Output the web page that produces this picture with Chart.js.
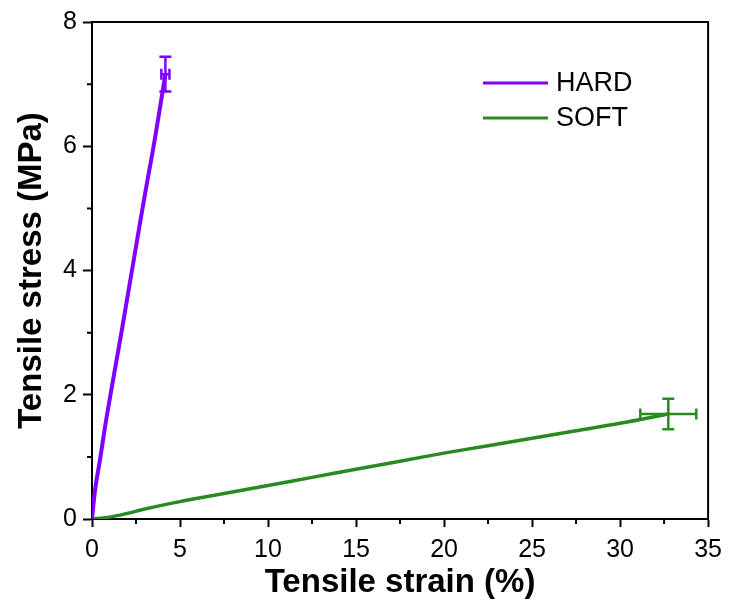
<!DOCTYPE html>
<html>
<head>
<meta charset="utf-8">
<script src="https://cdn.jsdelivr.net/npm/chart.js@4.4.1/dist/chart.umd.min.js"></script>
<style>
  html, body { margin: 0; padding: 0; background: #fff; }
  #wrap { width: 730px; height: 608px; }
</style>
</head>
<body>
<div id="wrap"><canvas id="c" width="730" height="608"></canvas></div>
<script>
// ---- data ----
const seriesNames = ['HARD', 'SOFT'];
const hardStrain = [0, 0.1, 0.2, 0.48, 0.75, 1.05, 1.36, 1.67, 1.97, 2.27, 2.57, 2.87, 3.18, 3.5, 3.85, 4.17];
const hardStress = [0, 0.28, 0.52, 1.0, 1.5, 2.0, 2.5, 3.0, 3.5, 4.0, 4.5, 5.0, 5.5, 6.0, 6.6, 7.16];
const softStrain = [0, 1, 2, 3, 5, 7.5, 10, 12.5, 15, 17.5, 20, 22.5, 25, 27.5, 30, 32.74];
const softStress = [0, 0.03, 0.09, 0.16, 0.28, 0.41, 0.54, 0.67, 0.80, 0.93, 1.06, 1.18, 1.30, 1.42, 1.54, 1.69];
// end-point error bars (mean strain, mean stress, strain error, stress error)
const errStrain = [4.17, 32.74];
const errStress = [7.16, 1.69];
const errStrainSd = [0.23, 1.59];
const errStressSd = [0.28, 0.245];
const xTicks = [0, 5, 10, 15, 20, 25, 30, 35];
const yTicks = [0, 2, 4, 6, 8];
const xMinor = [2.5, 7.5, 12.5, 17.5, 22.5, 27.5, 32.5];
const yMinor = [1, 3, 5, 7];
const colors = ['#7f00ff', '#2a8a22'];

const FONT = "'Liberation Sans', Arial, sans-serif";

function pts(xs, ys) { return xs.map((x, i) => ({ x: x, y: ys[i] })); }

const extras = {
  id: 'extras',
  afterDatasetsDraw(chart) {
    const ctx = chart.ctx, ca = chart.chartArea;
    const xs = chart.scales.x, ys = chart.scales.y;
    ctx.save();
    // frame top / right
    ctx.strokeStyle = '#000'; ctx.lineWidth = 2;
    ctx.beginPath();
    ctx.moveTo(ca.left, ca.top); ctx.lineTo(ca.right, ca.top); ctx.lineTo(ca.right, ca.bottom);
    ctx.stroke();
    // minor ticks
    ctx.beginPath();
    xMinor.forEach(v => { const p = xs.getPixelForValue(v); ctx.moveTo(p, ca.bottom); ctx.lineTo(p, ca.bottom + 5); });
    yMinor.forEach(v => { const p = ys.getPixelForValue(v); ctx.moveTo(ca.left, p); ctx.lineTo(ca.left - 5, p); });
    ctx.stroke();
    // error bars
    ctx.lineWidth = 2.5;
    for (let i = 0; i < errStrain.length; i++) {
      ctx.strokeStyle = colors[i];
      const cx = xs.getPixelForValue(errStrain[i]);
      const cy = ys.getPixelForValue(errStress[i]);
      const x1 = xs.getPixelForValue(errStrain[i] - errStrainSd[i]);
      const x2 = xs.getPixelForValue(errStrain[i] + errStrainSd[i]);
      const y1 = ys.getPixelForValue(errStress[i] + errStressSd[i]);
      const y2 = ys.getPixelForValue(errStress[i] - errStressSd[i]);
      ctx.beginPath();
      ctx.moveTo(x1, cy); ctx.lineTo(x2, cy);
      ctx.moveTo(x1, cy - 5.5); ctx.lineTo(x1, cy + 5.5);
      ctx.moveTo(x2, cy - 5.5); ctx.lineTo(x2, cy + 5.5);
      ctx.moveTo(cx, y1); ctx.lineTo(cx, y2);
      ctx.moveTo(cx - 6, y1); ctx.lineTo(cx + 6, y1);
      ctx.moveTo(cx - 6, y2); ctx.lineTo(cx + 6, y2);
      ctx.stroke();
    }
    // legend
    const lx = ca.left + 391, ly = ca.top + 61, gap = 35;
    ctx.font = '27px ' + FONT;
    ctx.textBaseline = 'middle';
    ctx.fillStyle = '#000';
    chart.data.datasets.forEach((ds, i) => {
      const y = ly + i * gap;
      ctx.strokeStyle = ds.borderColor; ctx.lineWidth = 3;
      ctx.beginPath(); ctx.moveTo(lx, y); ctx.lineTo(lx + 65, y); ctx.stroke();
      ctx.fillText(ds.label, lx + 73, y + 1);
    });
    ctx.restore();
  }
};

new Chart(document.getElementById('c'), {
  type: 'scatter',
  data: {
    datasets: [
      { label: seriesNames[0], data: pts(hardStrain, hardStress), showLine: true, borderColor: colors[0], backgroundColor: colors[0], borderWidth: 4, pointRadius: 0, tension: 0.3 },
      { label: seriesNames[1], data: pts(softStrain, softStress), showLine: true, borderColor: colors[1], backgroundColor: colors[1], borderWidth: 3.5, pointRadius: 0, tension: 0.3 }
    ]
  },
  options: {
    responsive: false,
    animation: false,
    devicePixelRatio: 1,
    layout: { padding: { top: 22, right: 21, left: 0, bottom: 0 } },
    plugins: { legend: { display: false }, tooltip: { enabled: false } },
    scales: {
      x: {
        type: 'linear', min: 0, max: 35,
        afterBuildTicks: s => { s.ticks = xTicks.map(v => ({ value: v })); },
        afterFit: s => { s.height = 89; },
        ticks: { color: '#000', font: { family: FONT, size: 25 }, padding: 8, maxRotation: 0 },
        grid: { drawOnChartArea: false, tickLength: 8, tickColor: '#000', tickWidth: 2 },
        border: { color: '#000', width: 2 },
        title: { display: true, text: 'Tensile strain (%)', color: '#000', font: { family: FONT, size: 33, weight: 'bold' }, padding: { top: 0, bottom: 5 } }
      },
      y: {
        type: 'linear', min: 0, max: 8,
        afterBuildTicks: s => { s.ticks = yTicks.map(v => ({ value: v })); },
        afterFit: s => { s.width = 92; },
        ticks: { color: '#000', font: { family: FONT, size: 25 }, padding: 6 },
        grid: { drawOnChartArea: false, tickLength: 9, tickColor: '#000', tickWidth: 2 },
        border: { color: '#000', width: 2 },
        title: { display: true, text: 'Tensile stress (MPa)', color: '#000', font: { family: FONT, size: 33, weight: 'bold' }, padding: { top: 12, bottom: 0 } }
      }
    }
  },
  plugins: [extras]
});
</script>
</body>
</html>
